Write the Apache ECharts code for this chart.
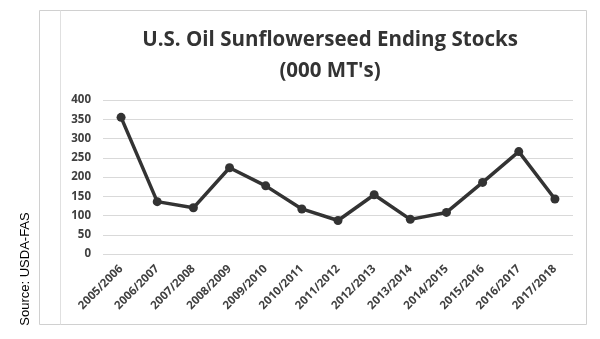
<!DOCTYPE html>
<html>
<head>
<meta charset="utf-8">
<script src="https://cdn.jsdelivr.net/npm/echarts@6/dist/echarts.min.js"></script>
<style>
html,body{margin:0;padding:0;background:#fff;}
#c{width:600px;height:339px;}
</style>
</head>
<body>
<div id="c"></div>
<script>
var categories = ['2005/2006','2006/2007','2007/2008','2008/2009','2009/2010','2010/2011','2011/2012','2012/2013','2013/2014','2014/2015','2015/2016','2016/2017','2017/2018'];
var stocks = [355, 136, 120, 224, 177, 117, 87, 154, 90, 108, 186, 266, 143];
var yTicks = [0, 50, 100, 150, 200, 250, 300, 350, 400];

var chart = echarts.init(document.getElementById('c'), null, {renderer: 'canvas'});
chart.setOption({
  animation: false,
  backgroundColor: '#fff',
  title: {
    text: "U.S. Oil Sunflowerseed Ending Stocks\n(000 MT's)",
    left: 325, top: 20, textAlign: 'center',
    textStyle: {fontFamily: 'Open Sans', fontWeight: 'bold', fontSize: 20.5, color: '#333', lineHeight: 31}
  },
  grid: {left: 103, right: 27, top: 100, bottom: 85, containLabel: false},
  xAxis: {
    type: 'category', data: categories, boundaryGap: true,
    axisLine: {show: false}, axisTick: {show: false},
    axisLabel: {rotate: 45, margin: 13, interval: 0, fontFamily: 'Open Sans', fontWeight: 'bold', fontSize: 11.5, color: '#404040'}
  },
  yAxis: {
    type: 'value', min: yTicks[0], max: yTicks[yTicks.length-1], interval: 50,
    axisLine: {show: false}, axisTick: {show: false},
    splitLine: {lineStyle: {color: '#d9d9d9', width: 1}},
    axisLabel: {margin: 12, fontFamily: 'Open Sans', fontWeight: 'bold', fontSize: 11.5, color: '#404040'}
  },
  series: [{
    type: 'line', data: stocks,
    symbol: 'circle', symbolSize: 9,
    lineStyle: {color: '#333', width: 3.5},
    itemStyle: {color: '#333'}
  }],
  graphic: [
    {type: 'rect', shape: {x: 39.5, y: 10.5, width: 547, height: 314}, style: {fill: 'none', stroke: '#d0d0d0', lineWidth: 1}, silent: true},
    {type: 'line', shape: {x1: 60.5, y1: 10.5, x2: 60.5, y2: 324.5}, style: {stroke: '#e0e0e0', lineWidth: 1}, silent: true},
    {type: 'text', x: 25, y: 269, rotation: Math.PI/2,
     style: {text: 'Source: USDA-FAS', fontFamily: 'Liberation Sans', fontSize: 13, fill: '#000', align: 'center', verticalAlign: 'middle'}, silent: true}
  ]
});
</script>
</body>
</html>
